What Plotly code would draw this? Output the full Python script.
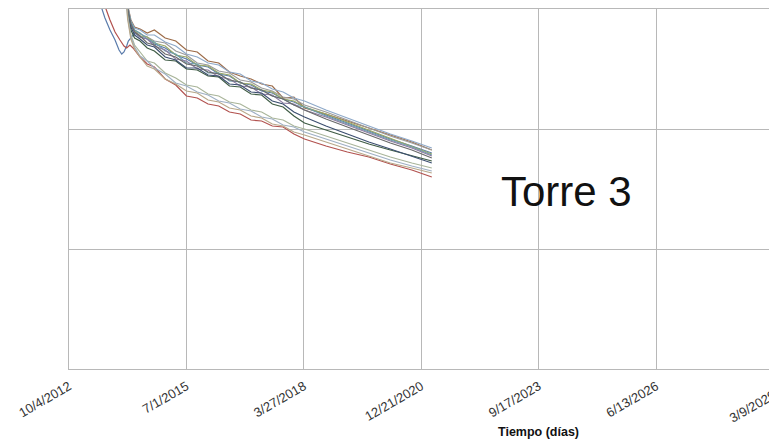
import plotly.graph_objects as go

# Common sampling dates for the main group of readings
fechas = ["2014-01-15", "2014-02-15", "2014-03-15", "2014-04-15", "2014-06-01",
          "2014-08-01", "2014-10-01", "2015-01-01", "2015-04-01", "2015-07-01",
          "2015-10-01", "2016-01-01", "2016-04-01", "2016-07-01", "2016-10-01",
          "2017-01-01", "2017-04-01", "2017-07-01", "2017-10-01", "2018-01-01",
          "2018-04-01", "2018-10-01", "2019-04-01", "2019-10-01", "2020-04-01",
          "2020-10-01", "2021-03-20"]

# Two instruments started earlier than the rest
fechas_p1 = ["2013-06-16", "2013-07-09", "2013-08-06", "2013-09-18", "2013-10-31",
             "2013-12-04", "2013-12-27", "2014-01-15", "2014-02-07", "2014-02-21",
             "2014-03-15"] + fechas[3:]
fechas_p2 = ["2013-07-10", "2013-08-15", "2013-09-18", "2013-10-31", "2013-12-12",
             "2014-01-15", "2014-02-07", "2014-03-07", "2014-04-02"] + fechas[4:]

p1 = [38.9, 36.1, 35.1, 33.9, 32.9, 31.9, 31.5, 31.7, 32.3, 32.8, 33.1,
      33.6, 33.2, 33.0, 32.5, 32.1, 31.4, 31.0, 30.4, 30.2, 29.5, 29.3, 28.6,
      28.4, 27.8, 27.6, 27.0, 26.7, 26.2, 25.4, 24.6, 23.8, 23.0, 22.3, 21.6]
p2 = [38.4, 36.0, 34.9, 33.7, 32.9, 32.3, 32.1, 32.4, 32.1,
      31.2, 30.5, 30.2, 29.0, 28.4, 27.3, 27.1, 26.5, 26.3, 25.7, 25.5, 24.9,
      24.8, 24.3, 24.2, 23.5, 23.0, 22.3, 21.7, 21.2, 20.5, 19.9, 19.2]

p3 = [41.4, 36.4, 34.9, 34.2, 34.0, 33.6, 33.9, 33.1, 32.8, 31.9, 31.7, 30.8, 30.6,
      29.7, 29.3, 29.0, 28.5, 28.3, 27.1, 27.2, 26.1, 25.5, 24.8, 24.1, 23.4, 22.7, 21.9]
p4 = [42.4, 36.3, 34.8, 34.1, 33.9, 33.4, 33.4, 32.7, 32.3, 31.5, 31.2, 30.6, 30.4,
      29.7, 29.5, 28.8, 28.6, 28.0, 27.7, 27.1, 26.8, 25.9, 25.1, 24.3, 23.5, 22.8, 22.1]
p5 = [41.9, 36.0, 34.6, 33.9, 33.5, 33.2, 32.8, 32.6, 31.8, 31.4, 30.6, 30.4, 29.8,
      29.6, 28.9, 28.7, 28.1, 27.8, 27.2, 27.0, 26.4, 25.7, 24.9, 24.1, 23.3, 22.6, 21.9]
p6 = [41.7, 35.9, 34.5, 33.8, 33.3, 33.2, 32.6, 32.3, 31.4, 31.2, 30.4, 30.3, 29.6,
      29.4, 28.6, 28.5, 27.9, 27.7, 27.0, 26.8, 26.2, 25.5, 24.7, 23.9, 23.1, 22.3, 21.5]
p7 = [42.1, 36.1, 34.7, 33.9, 33.6, 33.0, 32.7, 31.8, 31.5, 30.6, 30.5, 29.6, 29.6,
      28.8, 28.7, 28.1, 27.9, 27.3, 27.0, 26.4, 26.2, 25.3, 24.5, 23.7, 22.9, 22.2, 21.4]
p8 = [41.5, 35.8, 34.4, 33.7, 33.2, 33.0, 32.3, 31.9, 31.0, 30.8, 30.0, 29.9, 29.2,
      29.0, 28.3, 28.2, 27.5, 27.4, 26.6, 26.5, 25.9, 25.2, 24.4, 23.6, 22.8, 22.1, 21.3]
p9 = [41.1, 35.7, 33.9, 33.1, 32.8, 32.1, 31.8, 30.9, 30.8, 30.0, 29.9, 29.3, 29.2,
      28.3, 28.2, 27.5, 27.4, 26.5, 26.2, 25.3, 24.6, 23.9, 23.2, 22.5, 21.9, 21.3, 20.8]
p10 = [41.3, 35.9, 34.2, 33.4, 33.0, 32.4, 32.2, 31.2, 30.9, 30.1, 30.1, 29.4, 29.3,
       28.5, 28.4, 27.7, 27.6, 26.8, 26.5, 25.7, 25.2, 24.3, 23.5, 22.7, 22.0, 21.3, 20.6]
p11 = [41.6, 36.0, 34.5, 33.7, 33.3, 32.6, 32.4, 31.5, 31.2, 30.5, 30.3, 29.7, 29.5,
       28.9, 28.7, 28.1, 27.9, 27.3, 27.0, 26.4, 25.9, 25.0, 24.2, 23.4, 22.6, 21.9, 21.1]
p12 = [40.9, 35.4, 33.4, 32.4, 31.7, 30.8, 30.6, 29.6, 29.1, 28.4, 28.2, 27.5, 27.3,
       26.7, 26.5, 25.9, 25.7, 25.1, 24.9, 24.3, 24.0, 23.3, 22.6, 21.9, 21.2, 20.6, 20.1]
p13 = [40.7, 35.2, 33.2, 32.2, 31.3, 30.8, 30.1, 29.5, 28.6, 28.3, 27.7, 27.4, 26.8,
       26.6, 26.0, 25.8, 25.2, 25.0, 24.4, 24.2, 23.7, 23.0, 22.3, 21.6, 20.9, 20.3, 19.8]
p14 = [40.5, 35.0, 33.0, 32.0, 31.2, 30.3, 30.0, 29.0, 28.5, 27.8, 27.6, 26.9, 26.7,
       26.1, 25.9, 25.3, 25.1, 24.5, 24.3, 23.7, 23.4, 22.7, 22.0, 21.3, 20.6, 20.1, 19.6]

nombres = ["P1", "P2", "P3", "P4", "P5", "P6", "P7", "P8", "P9", "P10",
           "P11", "P12", "P13", "P14"]
colores = ["#5a7bab", "#b2524f", "#9c6b48", "#8ea9c9", "#9b9b9b", "#9aa866",
           "#6e9fab", "#8c7ca3", "#3f5c45", "#3c4f70", "#6a6a6a", "#a9b59a",
           "#9fb0c4", "#b8a88a"]

ticks_fecha = ["2012-10-04", "2015-07-01", "2018-03-27", "2020-12-21",
               "2023-09-17", "2026-06-13"]
ticks_texto = ["10/4/2012", "7/1/2015", "3/27/2018", "12/21/2020",
               "9/17/2023", "6/13/2026"]
ultimo_tick = "3/9/2029"

datos = [(fechas_p1, p1), (fechas_p2, p2)] + [(fechas, s) for s in
         [p3, p4, p5, p6, p7, p8, p9, p10, p11, p12, p13, p14]]

fig = go.Figure()
for (xs, ys), nombre, color in zip(datos, nombres, colores):
    fig.add_trace(go.Scatter(x=xs, y=ys, mode="lines", name=nombre,
                             line=dict(color=color, width=1.2),
                             showlegend=False))

grid = "#b8b8b8"
fig.update_layout(
    width=769, height=440,
    margin=dict(l=69, r=0, t=9, b=71),
    paper_bgcolor="white", plot_bgcolor="white",
    font=dict(family="Liberation Sans, Arial, sans-serif", color="#333333"),
    xaxis=dict(
        type="date", range=["2012-10-04", "2029-01-28"],
        tickvals=ticks_fecha, ticktext=ticks_texto, tickangle=-30,
        tickfont=dict(size=13, color="#333333"), ticklabelstandoff=4,
        showgrid=True, gridcolor=grid, gridwidth=1,
        showline=True, linecolor=grid, linewidth=1, mirror=True,
        ticks="", zeroline=False,
    ),
    yaxis=dict(
        range=[0, 36], tickvals=[0, 12, 24, 36], showticklabels=False,
        showgrid=True, gridcolor=grid, gridwidth=1,
        showline=True, linecolor=grid, linewidth=1,
        ticks="", zeroline=False,
    ),
    annotations=[
        dict(text="Torre 3", xref="paper", yref="paper", x=0.7107, y=0.4917,
             xanchor="center", yanchor="middle", showarrow=False,
             font=dict(size=42, color="#111111",
                       family="Liberation Sans, Arial, sans-serif")),
        dict(text="<b>Tiempo (días)</b>", xref="paper", yref="paper",
             x=0.67, y=-0.175, xanchor="center", yanchor="middle",
             showarrow=False, font=dict(size=12.5, color="#111111")),
        dict(text=ultimo_tick, xref="paper", yref="paper", x=1.017, y=-0.042,
             xanchor="right", yanchor="top", textangle=-30, showarrow=False,
             font=dict(size=13, color="#333333")),
    ],
)

fig.write_html("out.html")
